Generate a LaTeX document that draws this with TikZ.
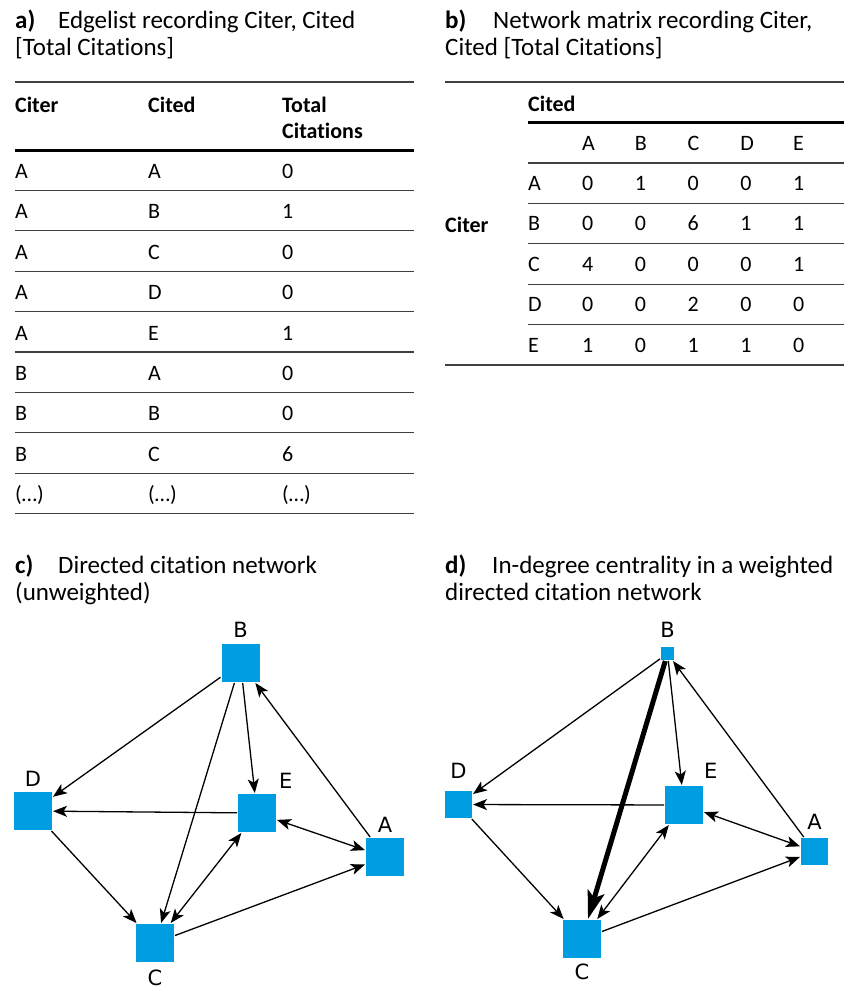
\documentclass[tikz,border=0pt]{standalone}
\usepackage{fontspec}
\setmainfont{Carlito}[Ligatures=NoCommon]
\newfontfamily\graphfont{DejaVu Sans}
\usepackage{xcolor}
\usetikzlibrary{arrows.meta, positioning}
\definecolor{nodeblue}{RGB}{0,158,224}

\begin{document}
\begin{tikzpicture}[x=1pt,y=-1pt,>={Stealth[length=14pt,width=11pt,inset=3.5pt]}]
    \tikzstyle{vertex}=[shape=rectangle,fill=nodeblue,inner sep=0pt,outer sep=1pt]
    \tikzstyle{vname}=[inner sep=0pt,font=\graphfont\fontsize{21}{21}\selectfont]
    \tikzstyle{title}=[anchor=base west,inner sep=0pt,font=\fontsize{25}{25}\selectfont]
    \tikzstyle{cell}=[anchor=base west,inner sep=0pt,font=\fontsize{22}{22}\selectfont]
    \tikzstyle{head}=[cell,font=\bfseries\fontsize{22}{22}\selectfont]
    \tikzstyle{rule}=[line width=1.3pt,draw=black!75]
    \tikzstyle{thickrule}=[line width=3pt,draw=black]
    \tikzstyle{link}=[draw,line width=1.3pt]

    \useasboundingbox (0,0) rectangle (844,989);

    % a) edgelist
    \node[title] (ta) at (15,28) {\textbf{a)}};
    \node[title] (taText) at (58,28) {Edgelist recording Citer, Cited};
    \node[title] (taText2) at (15,55) {[Total Citations]};
    \draw[rule] (15,82) -- (414,82);
    \node[head] (hCiter) at (15,112) {Citer};
    \node[head] (hCited) at (148,112) {Cited};
    \node[head] (hTotal) at (282,112) {Total};
    \node[head] (hCitations) at (282,138) {Citations};
    \draw[thickrule] (15,150) -- (414,150);
    \foreach \a/\b/\n [count=\i] in {A/A/0,A/B/1,A/C/0,A/D/0,A/E/1,B/A/0,B/B/0,B/C/6,{(…)}/{(…)}/{(…)}} {
        \node[cell] (el\i a) at (15,138+40.4*\i) {\a};
        \node[cell] (el\i b) at (148,138+40.4*\i) {\b};
        \node[cell] (el\i n) at (282,138+40.4*\i) {\n};
        \draw[rule] (15,150+40.4*\i) -- (414,150+40.4*\i);
    }

    % b) network matrix
    \node[title] (tb) at (445,28) {\textbf{b)}};
    \node[title] (tbText) at (493,28) {Network matrix recording Citer,};
    \node[title] (tbText2) at (445,55) {Cited [Total Citations]};
    \draw[rule] (445,82) -- (844,82);
    \node[head] (mCited) at (528,111) {Cited};
    \draw[thickrule] (528,122) -- (844,122);
    \foreach \h [count=\j] in {A,B,C,D,E}
        \node[cell] (mh\j) at (529.25+52.75*\j,150) {\h};
    \draw[rule] (528,163) -- (844,163);
    \node[head] (mCiter) at (445,232) {Citer};
    \foreach \r/\v [count=\i] in {A/{0,1,0,0,1},B/{0,0,6,1,1},C/{4,0,0,0,1},D/{0,0,2,0,0},E/{1,0,1,1,0}} {
        \node[cell] (m\r) at (528,150+40.4*\i) {\r};
        \foreach \x [count=\j] in \v
            \node[cell] (m\r\j) at (529.25+52.75*\j,150+40.4*\i) {\x};
    }
    \foreach \i in {1,...,4}
        \draw[rule] (528,163+40.4*\i) -- (844,163+40.4*\i);
    \draw[rule] (445,365) -- (844,365);

    % c) unweighted network
    \node[title] (tc) at (15,573) {\textbf{c)}};
    \node[title] (tcText) at (58,573) {Directed citation network};
    \node[title] (tcText2) at (15,600) {(unweighted)};

    \node[vertex,minimum size=38pt] (cB) at (240.5,663) {};
    \node[vertex,minimum size=38pt] (cD) at (33,811) {};
    \node[vertex,minimum size=38pt] (cE) at (257,813) {};
    \node[vertex,minimum size=38pt] (cA) at (385,857) {};
    \node[vertex,minimum size=38pt] (cC) at (155,943) {};
    \node[vname,above=5pt of cB] (cBl) {B};
    \node[vname,above=4pt of cD] (cDl) {D};
    \node[vname,above right=4pt and 2pt of cE] (cEl) {E};
    \node[vname,above=4pt of cA] (cAl) {A};
    \node[vname,below=7pt of cC] (cCl) {C};

    \path[link,->]
    (cB) edge (cD)
    (cB) edge (cC)
    (cB) edge (cE)
    (cA) edge (cB)
    (cE) edge (cD)
    (cE) edge[<->] (cA)
    (cE) edge[<->] (cC)
    (cD) edge (cC)
    (cC) edge (cA)
    ;

    % d) weighted network, in-degree
    \node[title] (td) at (445,573) {\textbf{d)}};
    \node[title] (tdText) at (492,573) {In-degree centrality in a weighted};
    \node[title] (tdText2) at (445,600) {directed citation network};

    \node[vertex,minimum size=13pt] (dB) at (667.5,653.5) {};
    \node[vertex,minimum size=27pt] (dD) at (458.5,804.5) {};
    \node[vertex,minimum size=38pt] (dE) at (684,805) {};
    \node[vertex,minimum size=27pt] (dA) at (814.5,851.5) {};
    \node[vertex,minimum size=38pt] (dC) at (582,939) {};
    \node[vname,above=8pt of dB] (dBl) {B};
    \node[vname,above=11pt of dD] (dDl) {D};
    \node[vname,above right=6pt and 0pt of dE] (dEl) {E};
    \node[vname,above=7pt of dA] (dAl) {A};
    \node[vname,below=5pt of dC] (dCl) {C};

    \path[link,->]
    (dB) edge (dD)
    (dB) edge[line width=5pt,>={Stealth[length=28pt,width=17pt,inset=6pt]}] (dC)
    (dB) edge (dE)
    (dA) edge (dB)
    (dE) edge (dD)
    (dE) edge[<->] (dA)
    (dE) edge[<->] (dC)
    (dD) edge (dC)
    (dC) edge (dA)
    ;
\end{tikzpicture}
\end{document}
